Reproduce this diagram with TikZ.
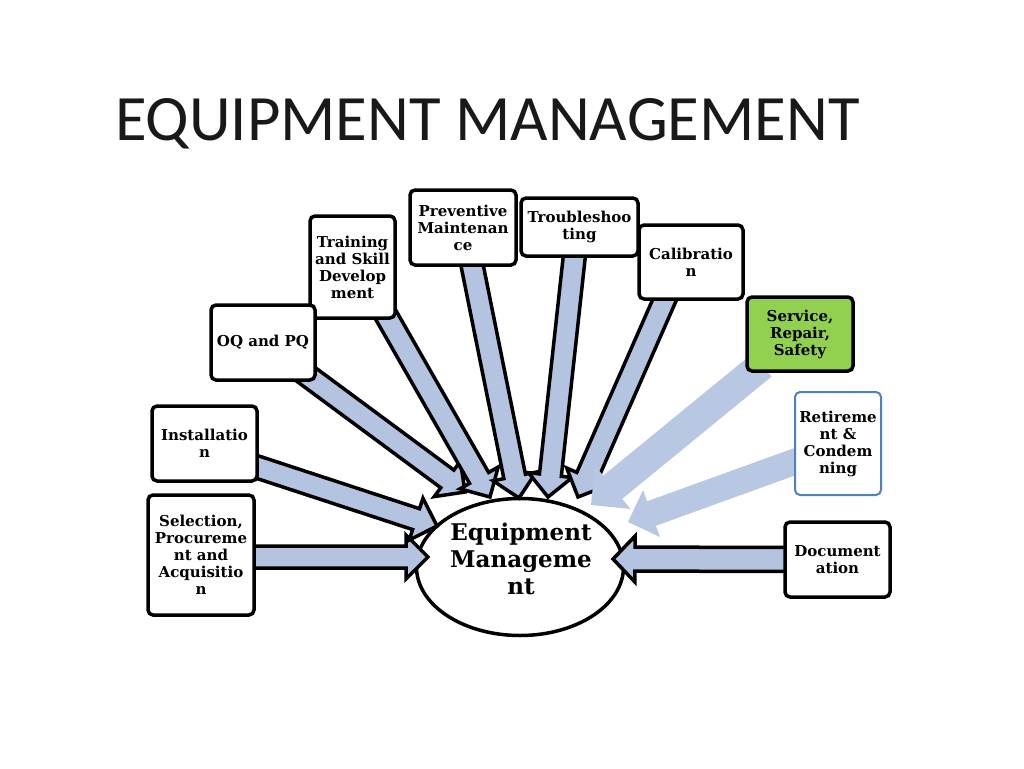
\documentclass[tikz,border=0pt]{standalone}
\usepackage{fontspec}
\setmainfont{DejaVu Serif}
\newfontfamily\titlefont{Carlito}
\usetikzlibrary{calc,shapes.geometric}
\definecolor{arrowblue}{RGB}{180,196,224}
\definecolor{lightarrow}{RGB}{184,200,226}
\definecolor{servgreen}{RGB}{146,208,80}
\definecolor{retblue}{RGB}{79,129,189}
\pgfdeclarelayer{bg}
\pgfdeclarelayer{mid}
\pgfsetlayers{bg,mid,main}
\newcommand\blockarr[6]{%
  \coordinate (hh) at ($(#3)!#6!(#2)$);
  \path[#1] ($(#2)!#4!90:(#3)$) -- ($(hh)!#4!90:(#3)$) -- ($(hh)!#5!90:(#3)$)
    -- (#3) -- ($(hh)!#5!-90:(#3)$) -- ($(hh)!#4!-90:(#3)$)
    -- ($(#2)!#4!-90:(#3)$) -- cycle;}
\tikzset{
  box/.style={draw=black, line width=3.5pt, rounded corners=5pt, fill=white,
    align=center, font=\fontsize{15}{17}\selectfont\bfseries, inner sep=1pt},
  outlined/.style={draw=black, fill=arrowblue, line width=3.5pt, line join=miter},
  plain/.style={fill=lightarrow, draw=none},
}
\begin{document}
\begin{tikzpicture}[x=1pt,y=-1pt]
\useasboundingbox (0,0) rectangle (1024,768);
\begin{pgfonlayer}{bg}
\fill[white] (0,0) rectangle (1024,768);
\node[ellipse, draw=black, line width=3.5pt, fill=white, minimum width=207pt, minimum height=137pt, inner sep=0pt] (em) at (520,567) {};
\end{pgfonlayer}
\node[anchor=base west, inner sep=0pt, font=\titlefont\fontsize{64.7}{70}\selectfont, text=black!90] (title) at (115,140) {EQUIPMENT MANAGEMENT};

\node[align=center, font=\fontsize{23}{27}\selectfont\bfseries] (emtext) at (521,559) {Equipment\\Manageme\\nt};

\node[box, minimum width=106pt, minimum height=75pt] (prev) at (463,227.5) {Preventive\\Maintenan\\ce};
\node[box, minimum width=117pt, minimum height=58pt] (trou) at (579.5,227) {Troubleshoo\\ting};
\node[box, minimum width=85pt, minimum height=102pt] (train) at (352.5,267) {Training\\and Skill\\Develop\\ment};
\node[box, minimum width=104pt, minimum height=74pt] (cal) at (691,262) {Calibratio\\n};
\node[box, fill=servgreen, minimum width=106pt, minimum height=74pt] (serv) at (800,334) {Service,\\Repair,\\Safety};
\node[box, minimum width=104pt, minimum height=75pt] (oq) at (263,342.5) {OQ and PQ};
\node[box, draw=retblue, line width=2pt, minimum width=86pt, minimum height=103pt] (ret) at (838,443.5) {Retireme\\nt \&\\Condem\\ning};
\node[box, minimum width=105pt, minimum height=75pt] (inst) at (204.5,443.5) {Installatio\\n};
\node[box, minimum width=106pt, minimum height=120pt] (sel) at (201,555) {Selection,\\Procureme\\nt and\\Acquisitio\\n};
\node[box, minimum width=105pt, minimum height=75pt] (doc) at (837.5,559.5) {Document\\ation};

% arrow tails and tips
\coordinate (tsel) at ($(sel.east)+(-8,2)$);
\coordinate (psel) at (428,557);
\coordinate (tinst) at (245,463);
\coordinate (pinst) at (437,526);
\coordinate (toq) at (300,370);
\coordinate (poq) at (465,492);
\coordinate (ttrain) at (383,310);
\coordinate (ptrain) at (490,497);
\coordinate (tprev) at (470,255);
\coordinate (pprev) at (519,498);
\coordinate (ttrou) at (575,250);
\coordinate (ptrou) at (548,497);
\coordinate (tcal) at (668,292);
\coordinate (pcal) at (578,497);
\coordinate (tserv) at (762,365);
\coordinate (pserv) at (591,505);
\coordinate (tret) at (805,458);
\coordinate (pret) at (628,522);
\coordinate (tdoc) at ($(doc.west)+(8,0)$);
\coordinate (pdoc) at (613,559);

\begin{pgfonlayer}{mid}
\blockarr{outlined}{tsel}{psel}{11pt}{22pt}{22pt}
\blockarr{outlined}{tinst}{pinst}{11pt}{22pt}{22pt}
\blockarr{outlined}{toq}{poq}{11pt}{22pt}{22pt}
\blockarr{outlined}{ttrain}{ptrain}{11pt}{22pt}{22pt}
\blockarr{outlined}{tprev}{pprev}{11pt}{22pt}{22pt}
\blockarr{outlined}{ttrou}{ptrou}{11pt}{22pt}{22pt}
\blockarr{outlined}{tcal}{pcal}{11pt}{22pt}{22pt}
\blockarr{outlined}{tdoc}{pdoc}{12pt}{23pt}{22pt}
\blockarr{plain}{tserv}{pserv}{15pt}{28pt}{28pt}
\blockarr{plain}{tret}{pret}{13pt}{25pt}{25pt}
\end{pgfonlayer}
\end{tikzpicture}
\end{document}
